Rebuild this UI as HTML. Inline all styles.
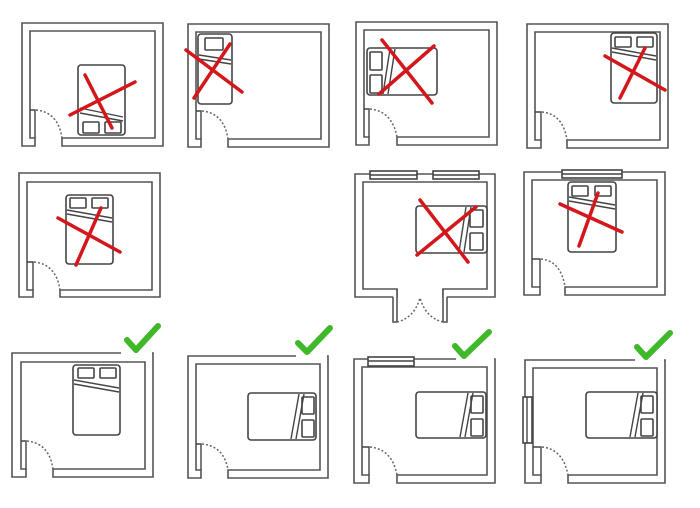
<!DOCTYPE html>
<html><head><meta charset="utf-8"><style>
html,body{margin:0;padding:0;background:#fff;width:700px;height:508px;overflow:hidden}
svg{display:block}
.w{fill:#fff;stroke:#555;stroke-width:1.6;stroke-linejoin:miter}
.b{fill:#fff;stroke:#444;stroke-width:1.6}
.l{stroke:#444;stroke-width:1.4;fill:none}
.d{stroke:#666;stroke-width:1.5;fill:none;stroke-dasharray:2 2}
.x{stroke:#d3171b;stroke-width:3.5;stroke-linecap:round}
.c{stroke:#3fb82a;stroke-width:6;fill:none;stroke-linecap:round;stroke-linejoin:round}
.e{stroke:#fff;stroke-width:3}
</style></head><body>
<svg width="700" height="508" viewBox="0 0 700 508" xmlns="http://www.w3.org/2000/svg">
<!-- R1 -->
<polygon class="w" points="35,146 22,146 22,23 163,23 163,146 62,146 62,138 155,138 155,31 30,31 30,138 35,138"/>
<polyline class="l" points="30,110 35,110 35,138"/>
<path class="d" d="M36,110 Q58,112 62,138"/>
<rect class="b" x="78" y="65" width="47" height="70" rx="3"/>
<rect class="b" x="83" y="122" width="16" height="11" rx="1"/>
<rect class="b" x="105" y="122" width="16" height="11" rx="1"/>
<line class="l" x1="80" y1="108" x2="123" y2="117"/><line class="l" x1="80" y1="113" x2="123" y2="121"/>
<line class="x" x1="70" y1="115" x2="135" y2="82"/><line class="x" x1="85" y1="75" x2="112" y2="128"/>
<!-- R2 -->
<polygon class="w" points="201,147 188,147 188,24 329,24 329,147 228,147 228,139 321,139 321,32 196,32 196,139 201,139"/>
<polyline class="l" points="196,111 201,111 201,139"/>
<path class="d" d="M202,111 Q224,113 228,139"/>
<rect class="b" x="198" y="34" width="34" height="70" rx="3"/>
<rect class="b" x="205" y="38" width="18" height="12" rx="1"/>
<line class="l" x1="199" y1="55" x2="231" y2="60"/><line class="l" x1="199" y1="59" x2="231" y2="64"/>
<line class="x" x1="186" y1="50" x2="242" y2="92"/><line class="x" x1="194" y1="98" x2="230" y2="44"/>
<!-- R3 -->
<polygon class="w" points="369,145 356,145 356,22 497,22 497,145 397,145 397,137 489,137 489,30 364,30 364,137 369,137"/>
<polyline class="l" points="364,109 369,109 369,137"/>
<path class="d" d="M370,109 Q392,111 397,137"/>
<rect class="b" x="367" y="48" width="70" height="47" rx="3"/>
<rect class="b" x="370" y="52" width="12" height="18" rx="1"/>
<rect class="b" x="370" y="75" width="12" height="18" rx="1"/>
<line class="l" x1="390" y1="49" x2="383" y2="94"/><line class="l" x1="395" y1="49" x2="388" y2="94"/>
<line class="x" x1="382" y1="40" x2="432" y2="103"/><line class="x" x1="379" y1="94" x2="434" y2="46"/>
<!-- R4 -->
<polygon class="w" points="541,148 527,148 527,24 668,24 668,148 567,148 567,140 660,140 660,32 535,32 535,140 541,140"/>
<polyline class="l" points="535,112 541,112 541,140"/>
<path class="d" d="M542,112 Q563,114 567,140"/>
<rect class="b" x="611" y="33" width="46" height="70" rx="3"/>
<rect class="b" x="615" y="37" width="16" height="10" rx="1"/>
<rect class="b" x="637" y="37" width="16" height="10" rx="1"/>
<line class="l" x1="612" y1="48" x2="656" y2="56"/><line class="l" x1="612" y1="52" x2="656" y2="60"/>
<line class="x" x1="605" y1="56" x2="665" y2="90"/><line class="x" x1="620" y1="98" x2="645" y2="48"/>
<!-- R5 -->
<polygon class="w" points="33,297 19,297 19,173 160,173 160,297 60,297 60,290 152,290 152,182 27,182 27,290 33,290"/>
<polyline class="l" points="27,262 33,262 33,290"/>
<path class="d" d="M34,262 Q56,264 60,290"/>
<rect class="b" x="66" y="195" width="47" height="69" rx="3"/>
<rect class="b" x="70" y="198" width="16" height="10" rx="1"/>
<rect class="b" x="92" y="198" width="16" height="10" rx="1"/>
<line class="l" x1="67" y1="210" x2="112" y2="218"/><line class="l" x1="67" y1="214" x2="112" y2="222"/>
<line class="x" x1="58" y1="218" x2="120" y2="252"/><line class="x" x1="76" y1="265" x2="101" y2="208"/>
<!-- R6 -->
<polygon class="w" points="397,297 355,297 355,174 495,174 495,297 443,297 443,289 487,289 487,182 363,182 363,289 397,289"/>
<rect class="b" x="370" y="171" width="47" height="8"/>
<rect class="b" x="433" y="171" width="46" height="8"/>
<line class="l" x1="370" y1="175" x2="417" y2="175"/><line class="l" x1="433" y1="175" x2="479" y2="175"/>
<polyline class="w" points="393,297 393,322 397,322 397,289"/>
<polyline class="w" points="443,289 443,322 447,322 447,297"/>
<path class="d" d="M397,322 Q414,318 420,298"/><path class="d" d="M443,322 Q426,318 420,298"/>
<rect class="b" x="416" y="206" width="71" height="47" rx="3"/>
<rect class="b" x="470" y="210" width="13" height="17" rx="1"/>
<rect class="b" x="470" y="233" width="13" height="17" rx="1"/>
<line class="l" x1="466" y1="207" x2="459" y2="252"/><line class="l" x1="471" y1="207" x2="464" y2="252"/>
<line class="x" x1="420" y1="200" x2="468" y2="262"/><line class="x" x1="417" y1="255" x2="476" y2="207"/>
<!-- R7 -->
<polygon class="w" points="540,295 524,295 524,172 665,172 665,295 565,295 565,287 657,287 657,180 532,180 532,287 540,287"/>
<rect class="b" x="562" y="170" width="60" height="8"/>
<line class="l" x1="562" y1="174" x2="622" y2="174"/>
<polyline class="l" points="532,259 540,259 540,287"/>
<path class="d" d="M541,259 Q561,261 565,287"/>
<rect class="b" x="568" y="182" width="48" height="70" rx="3"/>
<rect class="b" x="572" y="186" width="16" height="10" rx="1"/>
<rect class="b" x="595" y="186" width="16" height="10" rx="1"/>
<line class="l" x1="569" y1="197" x2="615" y2="205"/><line class="l" x1="569" y1="201" x2="615" y2="209"/>
<line class="x" x1="560" y1="204" x2="622" y2="232"/><line class="x" x1="579" y1="246" x2="598" y2="193"/>
<!-- R8 -->
<polygon class="w" points="26,477 12,477 12,353 153,353 153,477 53,477 53,469 145,469 145,362 21,362 21,469 26,469"/>
<line class="e" x1="121" y1="353" x2="152" y2="353"/>
<polyline class="l" points="21,441 26,441 26,469"/>
<path class="d" d="M27,441 Q49,443 53,469"/>
<rect class="b" x="73" y="365" width="47" height="70" rx="3"/>
<rect class="b" x="78" y="368" width="16" height="10" rx="1"/>
<rect class="b" x="100" y="368" width="16" height="10" rx="1"/>
<line class="l" x1="74" y1="380" x2="119" y2="388"/><line class="l" x1="74" y1="384" x2="119" y2="392"/>
<polyline class="c" points="127,340 136,350 158,326"/>
<!-- R9 -->
<polygon class="w" points="201,478 188,478 188,356 328,356 328,478 228,478 228,470 320,470 320,364 196,364 196,470 201,470"/>
<line class="e" x1="296" y1="356" x2="327" y2="356"/>
<polyline class="l" points="196,444 201,444 201,470"/>
<path class="d" d="M202,444 Q224,446 228,470"/>
<rect class="b" x="248" y="393" width="68" height="47" rx="3"/>
<rect class="b" x="302" y="397" width="12" height="17" rx="1"/>
<rect class="b" x="302" y="420" width="12" height="17" rx="1"/>
<line class="l" x1="299" y1="394" x2="291" y2="439"/><line class="l" x1="304" y1="394" x2="296" y2="439"/>
<polyline class="c" points="298,343 307,352 330,328"/>
<!-- R10 -->
<polygon class="w" points="369,483 354,483 354,359 495,359 495,483 397,483 397,475 487,475 487,367 362,367 362,475 369,475"/>
<line class="e" x1="456" y1="359" x2="494" y2="359"/>
<rect class="b" x="368" y="357" width="46" height="9"/>
<line class="l" x1="368" y1="361" x2="414" y2="361"/>
<polyline class="l" points="362,447 369,447 369,475"/>
<path class="d" d="M370,447 Q392,449 397,475"/>
<rect class="b" x="416" y="392" width="70" height="46" rx="3"/>
<rect class="b" x="471" y="396" width="12" height="17" rx="1"/>
<rect class="b" x="471" y="419" width="12" height="17" rx="1"/>
<line class="l" x1="468" y1="393" x2="460" y2="437"/><line class="l" x1="473" y1="393" x2="465" y2="437"/>
<polyline class="c" points="455,346 464,356 489,332"/>
<!-- R11 -->
<polygon class="w" points="541,483 525,483 525,360 665,360 665,483 568,483 568,475 657,475 657,368 533,368 533,475 541,475"/>
<line class="e" x1="635" y1="360" x2="664" y2="360"/>
<rect class="b" x="523" y="397" width="9" height="46"/>
<line class="l" x1="527" y1="397" x2="527" y2="443"/>
<polyline class="l" points="533,447 541,447 541,475"/>
<path class="d" d="M542,447 Q563,449 568,475"/>
<rect class="b" x="586" y="392" width="71" height="46" rx="3"/>
<rect class="b" x="641" y="396" width="12" height="17" rx="1"/>
<rect class="b" x="641" y="419" width="12" height="17" rx="1"/>
<line class="l" x1="638" y1="393" x2="630" y2="437"/><line class="l" x1="643" y1="393" x2="635" y2="437"/>
<polyline class="c" points="637,347 646,357 670,333"/>
</svg>
</body></html>
